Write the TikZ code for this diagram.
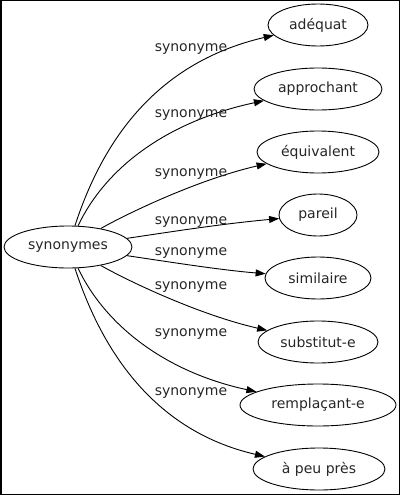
\documentclass[tikz,border=0pt]{standalone}
\usepackage{fontspec}
\setmainfont{DejaVu Sans}
\usetikzlibrary{arrows.meta,shapes.geometric}
\begin{document}
\begin{tikzpicture}[x=1pt,y=-1pt,
  word/.style={ellipse,draw,line width=0.9pt,inner sep=0pt,minimum height=42pt,font=\fontsize{14}{16}\selectfont,text=black!85},
  lbl/.style={inner sep=0pt,anchor=base,font=\fontsize{14}{16}\selectfont,text=black!85},
  link/.style={line width=0.9pt,-{Triangle[length=10pt,width=7pt]}}]
\useasboundingbox (0,0) rectangle (400,495);
\draw[line width=1.5pt] (0.75,0.75) rectangle (399.25,494.25);
\node[word,minimum width=128pt] (s) at (68,247) {synonymes};
\node[word,minimum width=100pt] (t1) at (318,25) {adéquat};
\node[word,minimum width=128pt] (t2) at (318,89) {approchant};
\node[word,minimum width=122pt] (t3) at (318,152) {équivalent};
\node[word,minimum width=78pt] (t4) at (318,215) {pareil};
\node[word,minimum width=106pt] (t5) at (318,278) {similaire};
\node[word,minimum width=120pt] (t6) at (318,342) {substitut-e};
\node[word,minimum width=156pt] (t7) at (318,405) {remplaçant-e};
\node[word,minimum width=132pt] (t8) at (319,469) {à peu près};
\draw[link] (s) .. controls (100,149) and (150,64) .. (t1);
\draw[link] (s) .. controls (105,169) and (165,122) .. (t2);
\draw[link] (s) .. controls (130,212) and (200,179) .. (t3);
\draw[link] (s) .. controls (170,232) and (220,224) .. (t4);
\draw[link] (s) .. controls (170,262) and (220,270) .. (t5);
\draw[link] (s) .. controls (130,282) and (200,315) .. (t6);
\draw[link] (s) .. controls (105,325) and (165,372) .. (t7);
\draw[link] (s) .. controls (100,345) and (150,430) .. (t8);
\node[lbl] (l1) at (191,52) {synonyme};
\node[lbl] (l2) at (191,117.5) {synonyme};
\node[lbl] (l3) at (191,176.5) {synonyme};
\node[lbl] (l4) at (191,224.5) {synonyme};
\node[lbl] (l5) at (191,255.5) {synonyme};
\node[lbl] (l6) at (191,289.5) {synonyme};
\node[lbl] (l7) at (191,336.5) {synonyme};
\node[lbl] (l8) at (191,395.5) {synonyme};
\end{tikzpicture}
\end{document}
